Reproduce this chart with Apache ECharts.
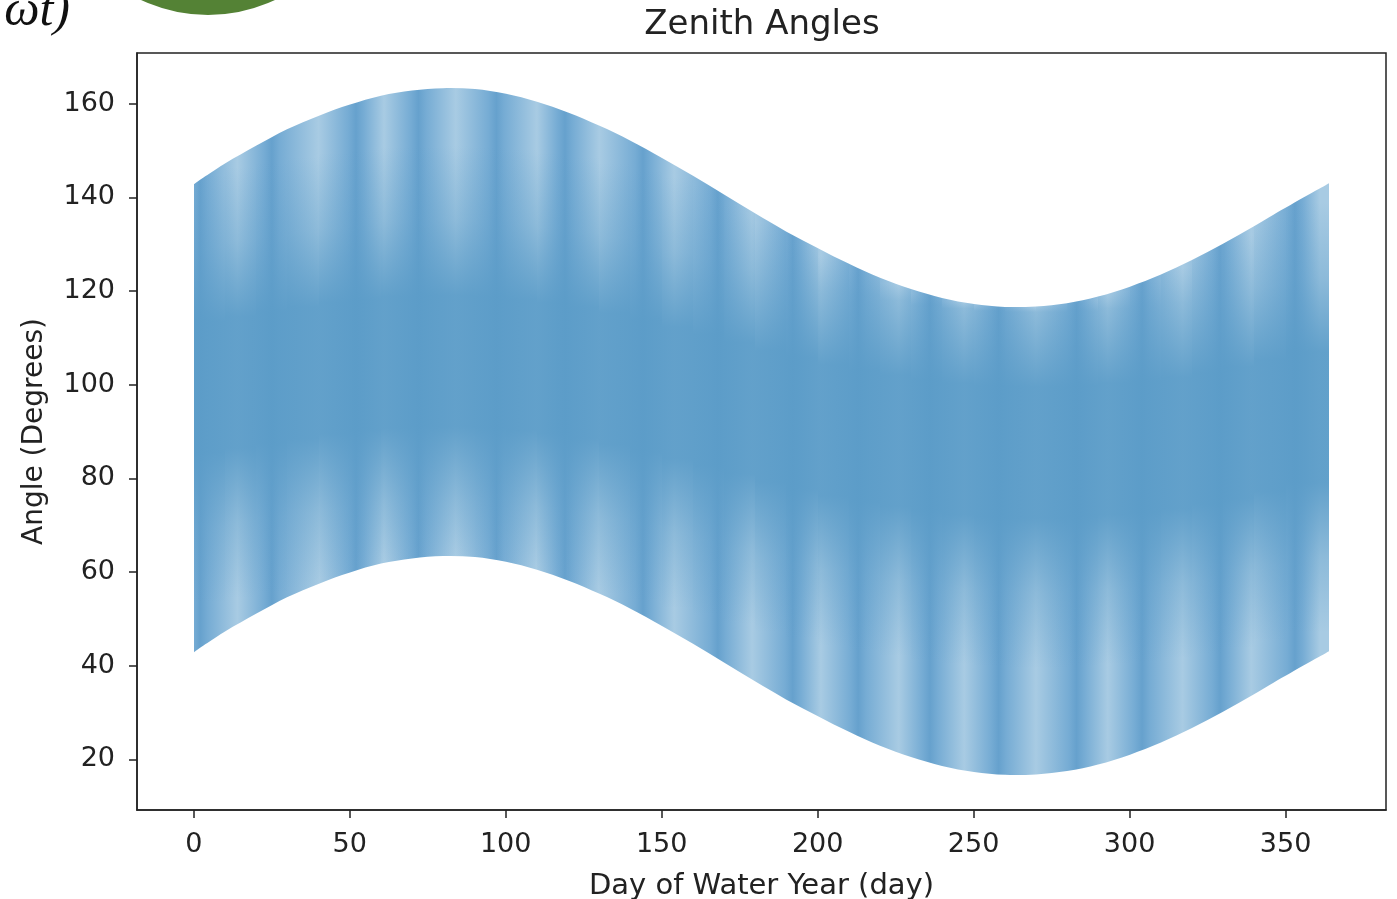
<!DOCTYPE html>
<html>
<head>
<meta charset="utf-8">
<title>Zenith Angles</title>
<script src="https://cdn.jsdelivr.net/npm/echarts@6/dist/echarts.min.js"></script>
<style>
    html, body { margin: 0; padding: 0; background: #fff; }
    #chart { width: 1397px; height: 899px; }
</style>
</head>
<body>
<div id="chart"></div>
<script>
// sample days along the water year
var days = [0, 10, 20, 30, 40, 50, 60, 70, 80, 90, 100, 110, 120, 130, 140, 150, 160, 170, 180,
    190, 200, 210, 220, 230, 240, 250, 260, 270, 280, 290, 300, 310, 320, 330, 340, 350, 364];
// upper envelope (midnight zenith), degrees
var upperAngle = [142.8, 147.2, 151.0, 154.5, 157.4, 159.8, 161.7, 162.8, 163.3, 163.1, 162.1, 160.4,
    158.1, 155.3, 152.1, 148.4, 144.6, 140.6, 136.6, 132.7, 129.1, 125.8, 122.8, 120.4, 118.5, 117.2,
    116.6, 116.7, 117.4, 118.8, 120.9, 123.5, 126.6, 130.1, 133.8, 137.8, 143.0];
// lower envelope (noon zenith), degrees
var lowerAngle = [42.9, 47.3, 51.1, 54.6, 57.5, 59.9, 61.8, 62.9, 63.4, 63.2, 62.2, 60.5,
    58.2, 55.4, 52.2, 48.5, 44.7, 40.7, 36.7, 32.8, 29.2, 25.9, 22.9, 20.5, 18.6, 17.3,
    16.7, 16.8, 17.5, 18.9, 21.0, 23.6, 26.7, 30.2, 33.9, 37.9, 43.1];
// centre of the dense (dark) part of the band
var coreAngle = [99, 100, 101, 102, 103, 104, 104.5, 105, 105, 105, 104.5, 104, 103, 102, 100.5, 99,
    97.5, 96, 94, 92.5, 91, 89.5, 88.5, 87.5, 86.5, 86, 85.5, 85.5, 85.5, 86, 86.5, 87, 88, 89,
    90.5, 92, 94];
// days where the vertical light / dark streaks sit
var lightStripeDays = [14, 40, 61, 84, 110, 130, 154, 179, 201, 226, 247, 270, 293, 317, 339, 361];
var darkStripeDays = [2, 25, 52, 72, 97, 119, 144, 168, 192, 213, 236, 258, 283, 304, 329, 353];

var xTicks = [0, 50, 100, 150, 200, 250, 300, 350];
var yTicks = [20, 40, 60, 80, 100, 120, 140, 160];

var textColor = '#222';
var fontName = 'DejaVu Sans';

var darkBlue = 'rgb(102,161,205)';
var midBlue = 'rgb(118,172,212)';
var lightBlue = 'rgb(168,203,227)';

// one row per segment: previous, start, end, next sample, then core centre
var segments = [];
for (var i = 0; i < days.length - 1; i++) {
    var p = Math.max(i - 1, 0), n = Math.min(i + 2, days.length - 1);
    segments.push([
        days[p], lowerAngle[p], upperAngle[p],
        days[i], lowerAngle[i], upperAngle[i],
        days[i + 1], lowerAngle[i + 1], upperAngle[i + 1],
        days[n], lowerAngle[n], upperAngle[n],
        (coreAngle[i] + coreAngle[i + 1]) / 2
    ]);
}

// smooth (catmull-rom) band segment as svg path
function segmentPath(api) {
    var P = [], i;
    for (i = 0; i < 4; i++) {
        P.push({
            top: api.coord([api.value(i * 3), api.value(i * 3 + 2)]),
            bot: api.coord([api.value(i * 3), api.value(i * 3 + 1)])
        });
    }
    var x1 = Math.round(P[1].top[0]), x2 = Math.round(P[2].top[0]);
    function ctrl(key) {
        var a = P[0][key], b = P[1][key], c = P[2][key], d = P[3][key];
        var t1 = [(c[0] - a[0]) / 6, (c[1] - a[1]) / 6];
        var t2 = [(d[0] - b[0]) / 6, (d[1] - b[1]) / 6];
        return [[b[0] + t1[0], b[1] + t1[1]], [c[0] - t2[0], c[1] - t2[1]]];
    }
    var ct = ctrl('top'), cb = ctrl('bot');
    return 'M' + x1 + ',' + P[1].top[1] +
        'C' + ct[0][0] + ',' + ct[0][1] + ' ' + ct[1][0] + ',' + ct[1][1] + ' ' + x2 + ',' + P[2].top[1] +
        'L' + x2 + ',' + P[2].bot[1] +
        'C' + cb[1][0] + ',' + cb[1][1] + ' ' + cb[0][0] + ',' + cb[0][1] + ' ' + x1 + ',' + P[1].bot[1] + 'Z';
}

var stripeStops = null;
function stripeGradient(api) {
    var xs = api.coord([days[0], 0])[0];
    var xe = api.coord([days[days.length - 1], 0])[0];
    var span = days[days.length - 1] - days[0];
    if (!stripeStops) {
        var list = [];
        lightStripeDays.forEach(function (d) { list.push([d, lightBlue]); });
        darkStripeDays.forEach(function (d) {
            list.push([d - 2.5, midBlue]);
            list.push([d, darkBlue]);
            list.push([d + 2.5, midBlue]);
        });
        list.sort(function (p, q) { return p[0] - q[0]; });
        stripeStops = list.map(function (p) {
            return {offset: Math.min(1, Math.max(0, (p[0] - days[0]) / span)), color: p[1]};
        });
    }
    return new echarts.graphic.LinearGradient(xs, 0, xe, 0, stripeStops, true);
}

function renderStripes(params, api) {
    return {
        type: 'path',
        shape: {pathData: segmentPath(api)},
        style: {fill: stripeGradient(api)}
    };
}

function renderCore(params, api) {
    var hi = (api.value(5) + api.value(8)) / 2;
    var lo = (api.value(4) + api.value(7)) / 2;
    var core = api.value(12);
    var yTop = api.coord([0, hi])[1];
    var yBot = api.coord([0, lo])[1];
    var range = hi - lo;
    var fc = (hi - core) / range;
    var hw = 14 / range, fade = 32 / range;
    function clamp(v) { return Math.min(1, Math.max(0, v)); }
    var c = '91,156,200';
    var stops = [
        {offset: clamp(fc - hw - fade), color: 'rgba(' + c + ',0)'},
        {offset: clamp(fc - hw - fade * 0.5), color: 'rgba(' + c + ',0.35)'},
        {offset: clamp(fc - hw), color: 'rgba(' + c + ',0.9)'},
        {offset: clamp(fc + hw), color: 'rgba(' + c + ',0.9)'},
        {offset: clamp(fc + hw + fade * 0.5), color: 'rgba(' + c + ',0.35)'},
        {offset: clamp(fc + hw + fade), color: 'rgba(' + c + ',0)'}
    ];
    return {
        type: 'path',
        shape: {pathData: segmentPath(api)},
        style: {fill: new echarts.graphic.LinearGradient(0, yTop, 0, yBot, stops, true)}
    };
}

var dom = document.getElementById('chart');
var myChart = echarts.init(dom);
var option = {
    animation: false,
    backgroundColor: '#fff',
    grid: {
        left: 137,
        right: 11,
        top: 53,
        bottom: 89,
        show: true,
        borderColor: textColor,
        borderWidth: 1.5,
        outerBoundsMode: 'none'
    },
    graphic: [
        {
            type: 'circle',
            shape: {cx: 208, cy: -142, r: 157},
            style: {fill: '#548235'}
        },
        {
            type: 'text',
            x: 70,
            y: 37,
            style: {
                text: 'ωt)',
                fontSize: 50,
                fontStyle: 'italic',
                fontFamily: 'Liberation Serif',
                fill: '#111',
                align: 'right',
                textAlign: 'right',
                verticalAlign: 'bottom',
                textVerticalAlign: 'bottom'
            }
        },
        {
            type: 'text',
            x: 762,
            y: 25,
            style: {
                text: 'Zenith Angles',
                fontSize: 34,
                fontFamily: fontName,
                fill: textColor,
                align: 'center',
                textAlign: 'center',
                verticalAlign: 'middle',
                textVerticalAlign: 'middle'
            }
        }
    ],
    xAxis: {
        type: 'value',
        min: -18.2,
        max: 382.2,
        name: 'Day of Water Year (day)',
        nameLocation: 'middle',
        nameGap: 62,
        nameTextStyle: {fontSize: 29, color: textColor, fontFamily: fontName, verticalAlign: 'top'},
        axisLine: {show: true, onZero: false, lineStyle: {color: textColor, width: 1.5}},
        axisTick: {show: true, length: 8, lineStyle: {color: textColor, width: 1.5}, customValues: xTicks},
        axisLabel: {fontSize: 27, color: textColor, fontFamily: fontName, margin: 21, customValues: xTicks},
        splitLine: {show: false}
    },
    yAxis: {
        type: 'value',
        min: 9.2,
        max: 170.8,
        name: 'Angle (Degrees)',
        nameLocation: 'middle',
        nameGap: 88,
        nameTextStyle: {fontSize: 28, color: textColor, fontFamily: fontName},
        axisLine: {show: true, onZero: false, lineStyle: {color: textColor, width: 1.5}},
        axisTick: {show: true, length: 8, lineStyle: {color: textColor, width: 1.5}, customValues: yTicks},
        axisLabel: {fontSize: 27, color: textColor, fontFamily: fontName, margin: 22, customValues: yTicks},
        splitLine: {show: false}
    },
    series: [
        {
            name: 'streaks',
            type: 'custom',
            renderItem: renderStripes,
            data: segments,
            silent: true
        },
        {
            name: 'core',
            type: 'custom',
            renderItem: renderCore,
            data: segments,
            silent: true
        }
    ]
};

if (option && typeof option === "object") {
    myChart.setOption(option, true);
}
</script>
</body>
</html>
